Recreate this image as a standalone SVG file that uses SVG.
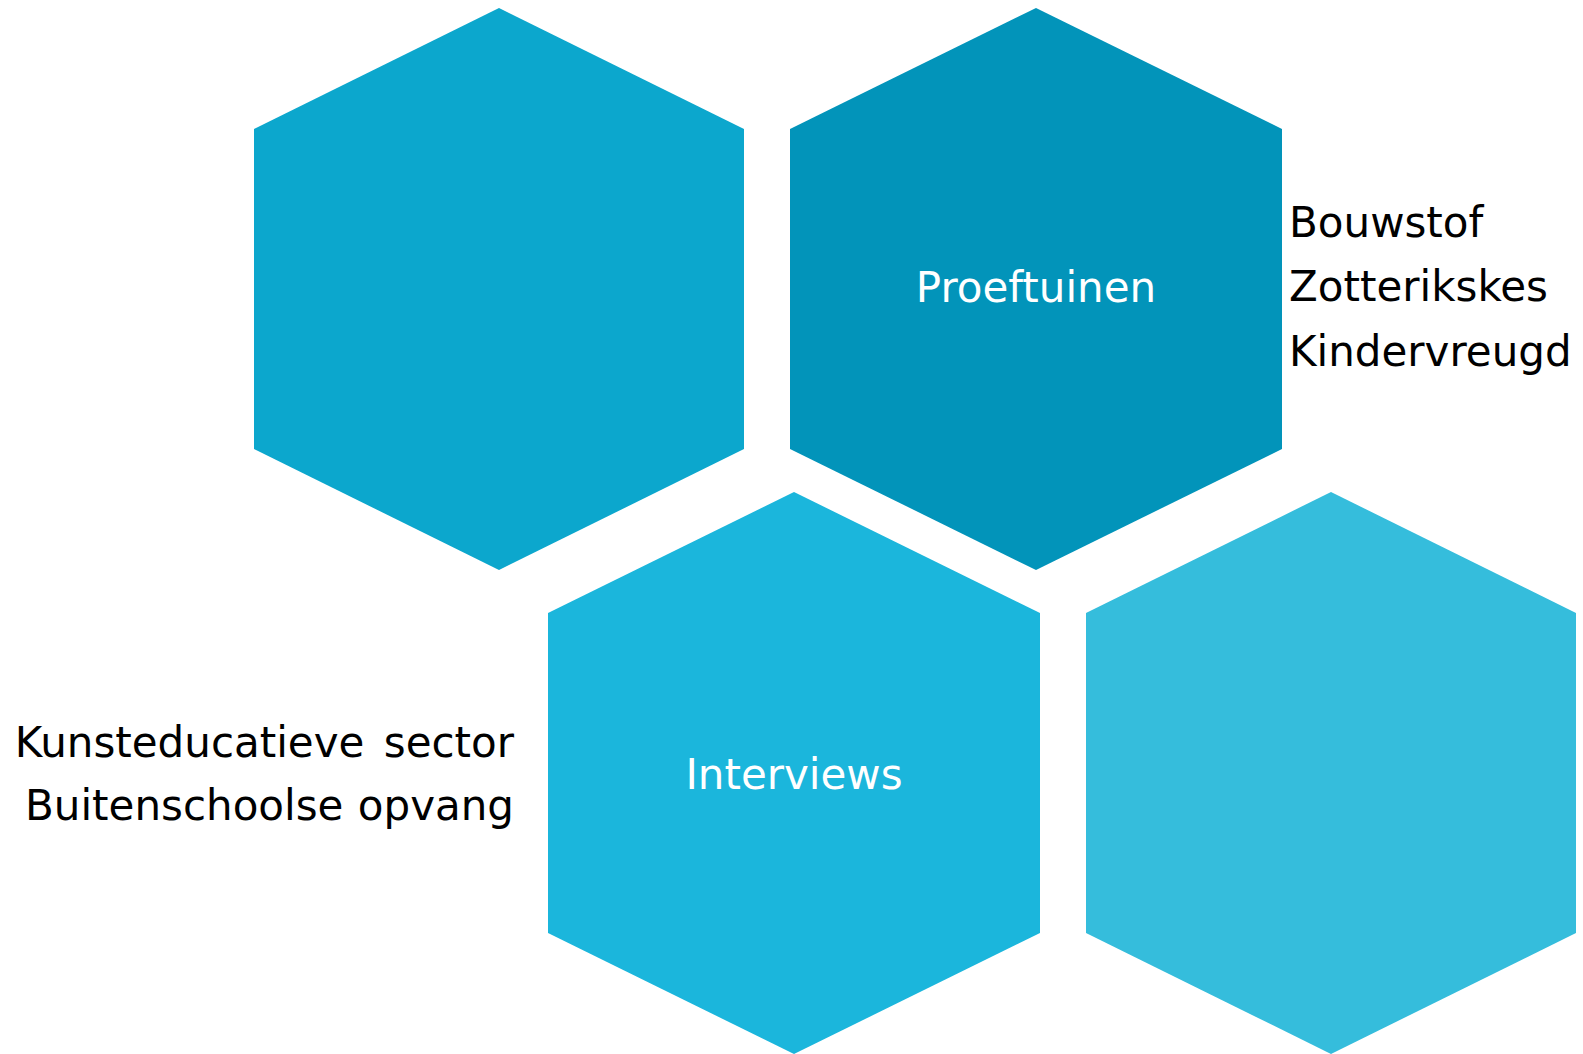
<svg xmlns="http://www.w3.org/2000/svg" width="1583" height="1054" viewBox="0 0 1583 1054">
<style>
.lbl{font-family:"DejaVu Sans","Verdana",sans-serif;font-size:42px;}
.in{fill:#ffffff;text-anchor:middle;}
.out{fill:#000000;}
</style>
<rect width="1583" height="1054" fill="#ffffff"/>
<g id="hex1">
<polygon points="499,8 744,129 744,449 499,570 254,449 254,129" fill="#0CA7CD"/>
</g>
<g id="hex2">
<polygon points="1036,8 1282,129 1282,449 1036,570 790,449 790,129" fill="#0294BA"/>
<text class="lbl in" x="1036" y="302">Proeftuinen</text>
</g>
<g id="hex3">
<polygon points="794,492 1040,613 1040,933 794,1054 548,933 548,613" fill="#1BB6DC"/>
<text class="lbl in" x="794" y="789">Interviews</text>
</g>
<g id="hex4">
<polygon points="1331,492 1576,613 1576,933 1331,1054 1086,933 1086,613" fill="#35BDDC"/>
</g>
<g id="labels-right">
<text class="lbl out" x="1289" y="237">Bouwstof</text>
<text class="lbl out" x="1289" y="301">Zotterikskes</text>
<text class="lbl out" x="1289" y="366">Kindervreugd</text>
</g>
<g id="labels-left">
<text class="lbl out" x="514" y="757" text-anchor="end" word-spacing="6">Kunsteducatieve sector</text>
<text class="lbl out" x="514" y="820" text-anchor="end" word-spacing="1">Buitenschoolse opvang</text>
</g>
<g id="connectors"></g>
</svg>
